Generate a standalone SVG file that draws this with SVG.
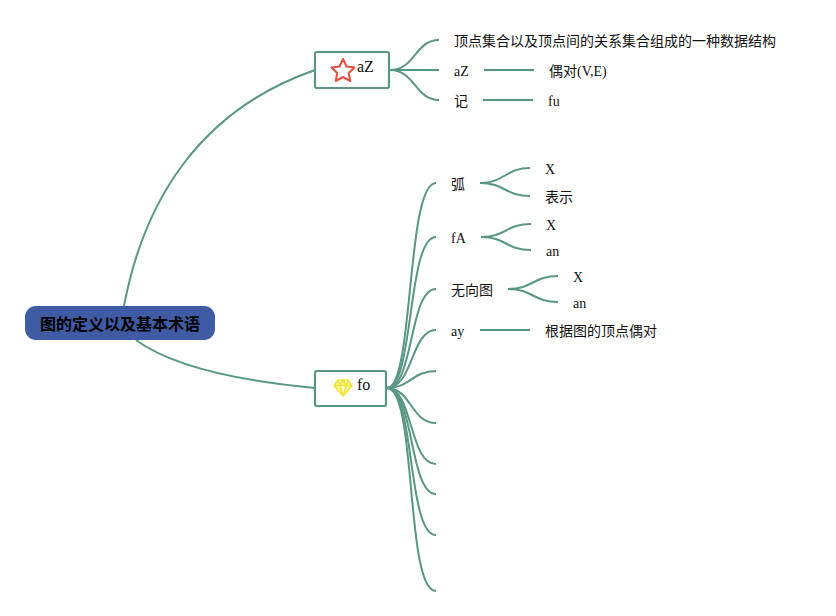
<svg xmlns="http://www.w3.org/2000/svg" width="836" height="616" viewBox="0 0 836 616">
<style>
text{font-family:"Liberation Serif","Noto Sans CJK SC",serif;font-size:14px;fill:#111}
.l{fill:none;stroke:#5a9684;stroke-width:2}
.box{fill:#fff;stroke:#5a9684;stroke-width:2.200}
</style>
<rect width="836" height="616" fill="#fff"/>
<g id="connectors">
<path class="l" d="M124 306C144 200 200 110 315 70"/>
<path class="l" d="M136 340C170 365 230 380 315 388"/>
<path class="l" d="M390 70C415 70 415 40 439 40"/>
<path class="l" d="M390 70H439"/>
<path class="l" d="M390 70C415 70 415 100 439 100"/>
<path class="l" d="M484 70H534"/>
<path class="l" d="M483 100H533"/>
<path class="l" d="M387 388C414 388 406 183 436 183"/>
<path class="l" d="M387 388C414 388 407 237 436 237"/>
<path class="l" d="M387 388C414 388 409 289 436 289"/>
<path class="l" d="M387 388C413 388 411 330 436 330"/>
<path class="l" d="M387 388C410 388 412 371 436 371"/>
<path class="l" d="M387 388C411 388 411 423 436 423"/>
<path class="l" d="M387 388C413 388 409 464 436 464"/>
<path class="l" d="M387 388C414 388 409 494 436 494"/>
<path class="l" d="M387 388C415 388 407 535 436 535"/>
<path class="l" d="M387 388C417 388 405 591 436 591"/>
<path class="l" d="M480 183C505 183 505 168 530 168"/>
<path class="l" d="M480 183C505 183 505 196 530 196"/>
<path class="l" d="M481 237C506 237 506 224 531 224"/>
<path class="l" d="M481 237C506 237 506 250 531 250"/>
<path class="l" d="M508 289C533 289 533 276 558 276"/>
<path class="l" d="M508 289C533 289 533 302 558 302"/>
<path class="l" d="M480 330H530"/>
</g>
<g id="root"><rect x="25" y="306" width="190" height="34" rx="11" fill="#3f5ba3"/><text x="120" y="329.500" text-anchor="middle" style="font-size:16px;font-weight:700;fill:#000">图的定义以及基本术语</text></g>
<g id="az"><rect class="box" x="315" y="52" width="74" height="36" rx="2"/>
<path d="M343 59L346.500 66.500L354.500 67.500L348.700 73L350.300 81L343 77L335.700 81L337.300 73L331.500 67.500L339.500 66.500Z" fill="none" stroke="#e2503f" stroke-width="2" stroke-linejoin="round"/>
<text x="357" y="72" style="font-size:16px">aZ</text></g>
<g id="fo"><rect class="box" x="315" y="371" width="71" height="35" rx="2"/>
<path d="M338 380H348L352 385.500L343 396L334 385.500ZM334 385.500H352M340 385.500L343 396L346 385.500M338 380L340 385.500L343 380L346 385.500L348 380" fill="#fff59d" stroke="#f2e53c" stroke-width="1.600" stroke-linejoin="round"/>
<text x="357" y="390" style="font-size:16px">fo</text></g>
<g id="n1"><text x="454" y="46">顶点集合以及顶点间的关系集合组成的一种数据结构</text></g>
<g id="n2"><text x="454" y="76">aZ</text></g>
<g id="n3"><text x="549" y="76">偶对(V,E)</text></g>
<g id="n4"><text x="454" y="106">记</text></g>
<g id="n5"><text x="548" y="106">fu</text></g>
<g id="n6"><text x="451" y="189">弧</text></g>
<g id="n7"><text x="545" y="174">X</text></g>
<g id="n8"><text x="545" y="202">表示</text></g>
<g id="n9"><text x="451" y="243">fA</text></g>
<g id="n10"><text x="546" y="230">X</text></g>
<g id="n11"><text x="546" y="256">an</text></g>
<g id="n12"><text x="451" y="295">无向图</text></g>
<g id="n13"><text x="573" y="282">X</text></g>
<g id="n14"><text x="573" y="308">an</text></g>
<g id="n15"><text x="451" y="336">ay</text></g>
<g id="n16"><text x="545" y="336">根据图的顶点偶对</text></g>
</svg>
